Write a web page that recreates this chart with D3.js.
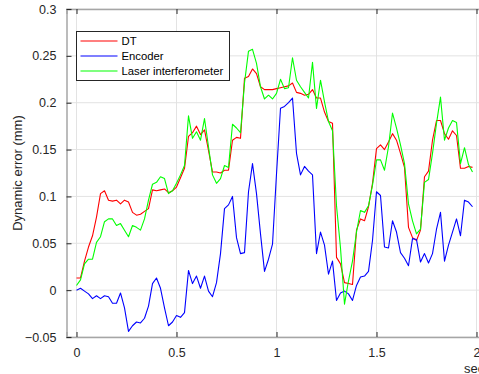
<!DOCTYPE html>
<html>
<head>
<meta charset="utf-8">
<script src="https://cdn.jsdelivr.net/npm/d3@7"></script>
<style>
  html, body { margin: 0; padding: 0; background: #fff; overflow: hidden; }
  svg { display: block; font-family: "Liberation Sans", Arial, sans-serif; }
</style>
</head>
<body>
<div id="chart"></div>
<script>
// time stamps (sec)
const time = [
  0.00, 0.02, 0.04, 0.06, 0.08, 0.10, 0.12, 0.14, 0.16, 0.18,
  0.20, 0.22, 0.24, 0.26, 0.28, 0.30, 0.32, 0.34, 0.36, 0.38,
  0.40, 0.42, 0.44, 0.46, 0.48, 0.50, 0.52, 0.54, 0.56, 0.58,
  0.60, 0.62, 0.64, 0.66, 0.68, 0.70, 0.72, 0.74, 0.76, 0.78,
  0.80, 0.82, 0.84, 0.86, 0.88, 0.90, 0.92, 0.94, 0.96, 0.98,
  1.00, 1.02, 1.04, 1.06, 1.08, 1.10, 1.12, 1.14, 1.16, 1.18,
  1.20, 1.22, 1.24, 1.26, 1.28, 1.30, 1.32, 1.34, 1.36, 1.38,
  1.40, 1.42, 1.44, 1.46, 1.48, 1.50, 1.52, 1.54, 1.56, 1.58,
  1.60, 1.62, 1.64, 1.66, 1.68, 1.70, 1.72, 1.74, 1.76, 1.78,
  1.80, 1.82, 1.84, 1.86, 1.88, 1.90, 1.92, 1.94, 1.96, 1.98
];

const dtError = [
  0.013, 0.013, 0.031, 0.046, 0.058, 0.078, 0.103, 0.106, 0.096, 0.095,
  0.096, 0.092, 0.096, 0.094, 0.083, 0.080, 0.081, 0.084, 0.087, 0.107,
  0.106, 0.107, 0.108, 0.104, 0.106, 0.110, 0.120, 0.130, 0.164, 0.168,
  0.175, 0.166, 0.171, 0.149, 0.126, 0.126, 0.125, 0.128, 0.128, 0.160,
  0.163, 0.162, 0.226, 0.228, 0.236, 0.231, 0.217, 0.214, 0.214, 0.214,
  0.215, 0.216, 0.217, 0.218, 0.221, 0.211, 0.210, 0.208, 0.209, 0.214,
  0.205, 0.205, 0.190, 0.180, 0.178, 0.035, 0.028, 0.008, 0.007, 0.006,
  0.064, 0.076, 0.074, 0.089, 0.114, 0.151, 0.155, 0.150, 0.158, 0.167,
  0.160, 0.146, 0.131, 0.067, 0.056, 0.053, 0.064, 0.121, 0.127, 0.160,
  0.181, 0.181, 0.167, 0.161, 0.170, 0.165, 0.130, 0.130, 0.132, 0.131
];

const encoderError = [
  0.000, 0.002, -0.001, -0.004, -0.009, -0.006, -0.009, -0.006, -0.007, -0.014,
  -0.014, -0.003, -0.019, -0.044, -0.038, -0.034, -0.035, -0.030, -0.017, 0.007,
  0.013, 0.002, -0.019, -0.038, -0.034, -0.027, -0.029, -0.024, 0.021, 0.007,
  0.015, 0.002, 0.015, -0.001, -0.007, 0.008, 0.039, 0.087, 0.091, 0.100,
  0.056, 0.039, 0.040, 0.105, 0.135, 0.103, 0.060, 0.020, 0.033, 0.049,
  0.124, 0.194, 0.196, 0.200, 0.205, 0.146, 0.123, 0.132, 0.127, 0.123,
  0.039, 0.062, 0.048, 0.017, 0.031, -0.011, -0.003, -0.001, -0.004, -0.011,
  0.005, 0.014, 0.015, 0.020, 0.053, 0.105, 0.101, 0.046, 0.045, 0.074,
  0.062, 0.040, 0.034, 0.026, 0.055, 0.054, 0.030, 0.039, 0.029, 0.039,
  0.065, 0.083, 0.031, 0.048, 0.062, 0.076, 0.058, 0.096, 0.094, 0.089
];

const laserError = [
  0.005, 0.011, 0.028, 0.033, 0.033, 0.051, 0.057, 0.073, 0.076, 0.076,
  0.069, 0.071, 0.064, 0.057, 0.069, 0.067, 0.064, 0.076, 0.096, 0.113,
  0.115, 0.121, 0.119, 0.103, 0.106, 0.114, 0.123, 0.133, 0.186, 0.162,
  0.169, 0.160, 0.183, 0.153, 0.123, 0.114, 0.119, 0.133, 0.131, 0.177,
  0.173, 0.168, 0.221, 0.255, 0.257, 0.242, 0.217, 0.204, 0.208, 0.204,
  0.210, 0.225, 0.215, 0.216, 0.248, 0.224, 0.217, 0.211, 0.205, 0.243,
  0.194, 0.224, 0.201, 0.180, 0.170, 0.090, 0.045, -0.015, 0.010, 0.031,
  0.062, 0.085, 0.083, 0.090, 0.112, 0.139, 0.139, 0.128, 0.153, 0.189,
  0.173, 0.155, 0.135, 0.092, 0.074, 0.060, 0.065, 0.115, 0.118, 0.146,
  0.178, 0.206, 0.160, 0.173, 0.181, 0.179, 0.135, 0.152, 0.134, 0.126
];

const seriesNames = ['DT', 'Encoder', 'Laser interferometer'];
const seriesColors = ['#ff0000', '#0000ff', '#00ff00'];
const xTicks = [0, 0.5, 1, 1.5, 2];
const yTicks = [-0.05, 0, 0.05, 0.1, 0.15, 0.2, 0.25, 0.3];

const width = 479, height = 374;
const plot = { left: 66.5, right: 486.5, top: 9, bottom: 337 };

const svg = d3.select('#chart').append('svg')
    .attr('width', width)
    .attr('height', height);

const x = d3.scaleLinear().domain([-0.05, 2.05]).range([plot.left, plot.right]);
const y = d3.scaleLinear().domain([-0.05, 0.3]).range([plot.bottom, plot.top]);

// grid
const grid = svg.append('g');
grid.selectAll('line.gx')
    .data(xTicks)
    .join('line')
    .attr('x1', d => x(d)).attr('x2', d => x(d))
    .attr('y1', plot.top).attr('y2', plot.bottom)
    .attr('stroke', '#e3e3e3').attr('stroke-width', 1);
grid.selectAll('line.gy')
    .data(yTicks)
    .join('line')
    .attr('x1', plot.left).attr('x2', plot.right)
    .attr('y1', d => y(d)).attr('y2', d => y(d))
    .attr('stroke', '#e3e3e3').attr('stroke-width', 1);

// data lines
svg.append('clipPath').attr('id', 'clip')
    .append('rect')
    .attr('x', plot.left).attr('y', plot.top)
    .attr('width', plot.right - plot.left).attr('height', plot.bottom - plot.top);

const lineGen = d3.line()
    .x((d, i) => x(time[i]))
    .y(d => y(d));

svg.append('g').attr('clip-path', 'url(#clip)')
    .selectAll('path')
    .data([dtError, encoderError, laserError])
    .join('path')
    .attr('d', lineGen)
    .attr('fill', 'none')
    .attr('stroke', (_, i) => seriesColors[i])
    .attr('stroke-width', 1.1)
    .attr('stroke-linejoin', 'round');

// axes (ticks pointing inward, like the original)
const xAxis = svg.append('g')
    .attr('transform', 'translate(0,' + plot.bottom + ')')
    .call(d3.axisBottom(x).tickValues(xTicks).tickSize(-5).tickPadding(11).tickFormat(d3.format('')));
const xAxisTop = svg.append('g')
    .attr('transform', 'translate(0,' + plot.top + ')')
    .call(d3.axisTop(x).tickValues(xTicks).tickSize(-5).tickFormat(''));
const yAxis = svg.append('g')
    .attr('transform', 'translate(' + plot.left + ',0)')
    .call(d3.axisLeft(y).tickValues(yTicks).tickSize(-5).tickPadding(10).tickFormat(d3.format('')));

[xAxis, xAxisTop, yAxis].forEach(a => {
    a.select('.domain').attr('stroke', '#a6a6a6').attr('stroke-width', 1.5);
    a.selectAll('.tick line').attr('stroke', '#262626');
    a.selectAll('.tick text')
        .attr('fill', '#262626')
        .style('font-size', '12.5px')
        .style('font-family', '"Liberation Sans", Arial, sans-serif');
});

// axis titles
svg.append('text')
    .attr('transform', 'translate(22,' + ((plot.top + plot.bottom) / 2) + ') rotate(-90)')
    .attr('text-anchor', 'middle')
    .attr('fill', '#262626')
    .style('font-size', '13px')
    .text('Dynamic error (mm)');

svg.append('text')
    .attr('x', 464).attr('y', 373)
    .attr('fill', '#262626')
    .style('font-size', '13px')
    .text('sec');

// legend
const legend = svg.append('g').attr('transform', 'translate(76.5,31.5)');
legend.append('rect')
    .attr('width', 153).attr('height', 49)
    .attr('fill', '#fff').attr('stroke', '#262626').attr('stroke-width', 1);
const items = legend.selectAll('g.item')
    .data(seriesNames)
    .join('g')
    .attr('transform', (_, i) => 'translate(0,' + (9.5 + i * 15) + ')');
items.append('line')
    .attr('x1', 4).attr('x2', 41)
    .attr('stroke', (_, i) => seriesColors[i])
    .attr('stroke-width', 1.1);
items.append('text')
    .attr('x', 45).attr('dy', '0.36em')
    .attr('fill', '#000')
    .style('font-size', '11.3px')
    .text(d => d);
</script>
</body>
</html>
